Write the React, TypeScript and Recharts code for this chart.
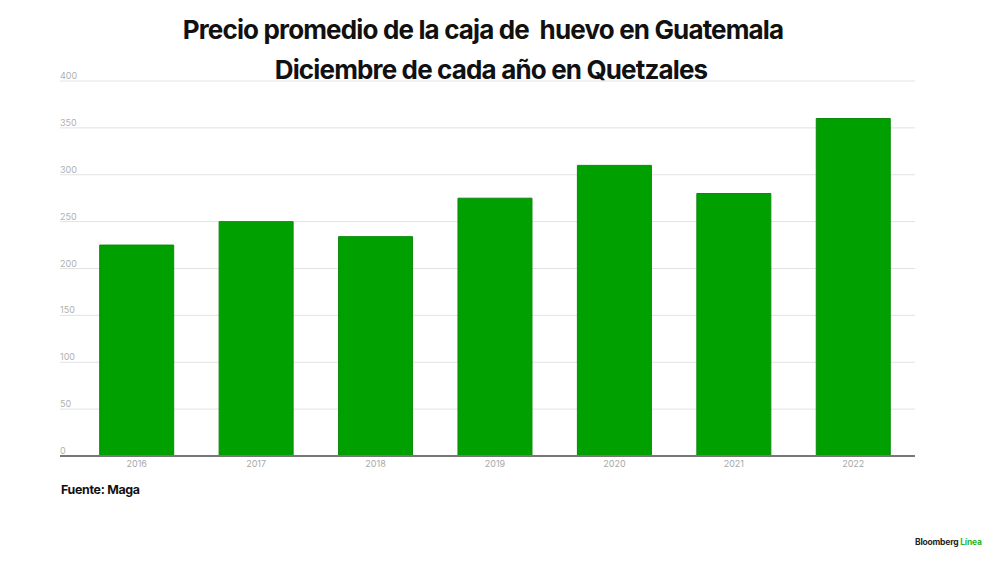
import { Bar, BarChart, CartesianGrid, XAxis, YAxis } from "recharts";

const years = ["2016", "2017", "2018", "2019", "2020", "2021", "2022"];
const prices = [225, 250, 234, 275, 310, 280, 360];
const yTicks = [0, 50, 100, 150, 200, 250, 300, 350, 400];

const data = years.map((year, i) => ({ year, price: prices[i] }));

const FONT = "Inter, 'Noto Sans', sans-serif";

// value labels sit just above each gridline, left-aligned with it
function YTick(props: any) {
  const { x, y, payload } = props;
  return (
    <text x={x + 6} y={y - 2} textAnchor="start" fontSize={9} fill="#b0b0b0" fontFamily={FONT}>
      {payload.value}
    </text>
  );
}

export default function App() {
  return (
    <div
      style={{
        position: "absolute",
        left: 0,
        top: 0,
        width: 1000,
        height: 562,
        background: "#fff",
        fontFamily: FONT,
        overflow: "hidden",
      }}
    >
      {/* Title */}
      <div
        style={{
          position: "absolute",
          top: 14,
          left: 0,
          width: 966,
          textAlign: "center",
          fontSize: 26,
          fontWeight: 700,
          letterSpacing: -0.85,
          color: "#111",
          whiteSpace: "pre",
        }}
      >
        {"Precio promedio de la caja de  huevo en Guatemala"}
      </div>
      <div
        style={{
          position: "absolute",
          top: 54,
          left: 0,
          width: 982,
          textAlign: "center",
          fontSize: 26,
          fontWeight: 700,
          letterSpacing: -0.85,
          color: "#111",
          zIndex: 2,
        }}
      >
        Diciembre de cada año en Quetzales
      </div>

      <div style={{ position: "absolute", left: 0, top: 0 }}>
        <BarChart
          width={1000}
          height={562}
          data={data}
          margin={{ top: 81, right: 85, bottom: 86, left: 59 }}
          barCategoryGap="19%"
        >
          <CartesianGrid vertical={false} stroke="#e2e2e2" />
          <XAxis
            dataKey="year"
            height={20}
            padding={{ left: 17, right: 2 }}
            tickLine={false}
            axisLine={{ stroke: "#777", strokeWidth: 2 }}
            tick={{ fontSize: 9, fill: "#a8a8a8", fontFamily: FONT, dy: -3 }}
            tickMargin={2}
          />
          <YAxis
            width={1}
            domain={[0, 400]}
            ticks={yTicks}
            axisLine={false}
            tickLine={false}
            tickMargin={0}
            tick={(p: any) => <YTick {...p} />}
          />
          <Bar
            dataKey="price"
            fill="#00a000"
            stroke="#0b8a0b"
            strokeWidth={1}
            isAnimationActive={false}
          />
        </BarChart>
      </div>

      <div
        style={{
          position: "absolute",
          left: 61,
          top: 482,
          fontSize: 12.4,
          fontWeight: 700,
          letterSpacing: -0.3,
          color: "#111",
        }}
      >
        Fuente: Maga
      </div>
      <div
        style={{
          position: "absolute",
          left: 915,
          top: 537,
          fontSize: 8.5,
          fontWeight: 700,
          letterSpacing: -0.2,
          color: "#222",
        }}
      >
        Bloomberg <span style={{ color: "#2bb52b" }}>Línea</span>
      </div>
    </div>
  );
}
